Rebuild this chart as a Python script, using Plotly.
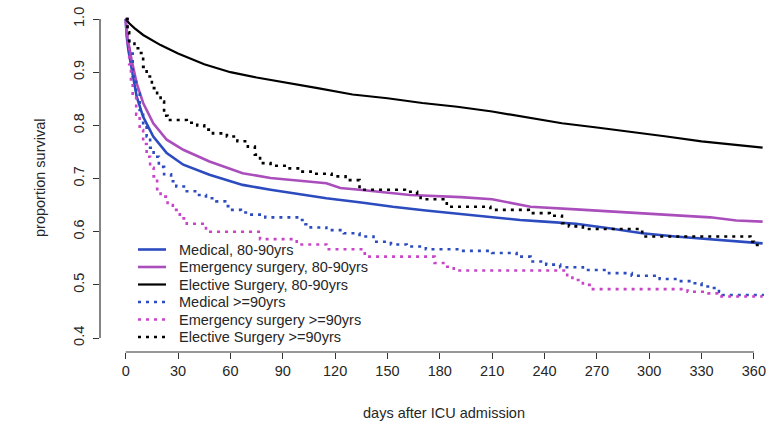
import plotly.graph_objects as go

# ---- Kaplan-Meier survival estimates (days after ICU admission) ----
# Solid curves: 80-90 yrs groups
med_8090_days = [0, 0.5, 1.5, 3.4, 6.3, 10, 15.8, 23.5, 33, 48, 60, 67, 83, 100, 115, 135,
                 153, 172, 192, 210, 226, 240, 258, 278, 296, 315, 335, 350, 365]
med_8090_surv = [1.0, 0.97, 0.942, 0.904, 0.854, 0.816, 0.779, 0.748, 0.726, 0.707, 0.695,
                 0.688, 0.679, 0.670, 0.663, 0.655, 0.647, 0.640, 0.633, 0.627, 0.622, 0.619,
                 0.615, 0.606, 0.597, 0.591, 0.586, 0.582, 0.578]

emg_8090_days = [0, 0.5, 3.4, 6.3, 10, 15.8, 23.5, 33, 48, 60, 67, 83, 100, 115, 123, 134,
                 163, 192, 210, 222, 232, 258, 296, 335, 350, 358, 365]
emg_8090_surv = [1.0, 0.974, 0.923, 0.879, 0.842, 0.804, 0.773, 0.754, 0.732, 0.718, 0.710,
                 0.701, 0.695, 0.691, 0.682, 0.679, 0.669, 0.665, 0.661, 0.654, 0.647, 0.642,
                 0.635, 0.627, 0.621, 0.620, 0.619]

ele_8090_days = [0, 2, 5, 10, 20, 30, 45, 60, 75, 90, 110, 130, 150, 170, 190, 210, 230,
                 250, 270, 290, 310, 330, 350, 365]
ele_8090_surv = [1.0, 0.992, 0.983, 0.970, 0.951, 0.935, 0.915, 0.900, 0.890, 0.882, 0.870,
                 0.858, 0.851, 0.842, 0.835, 0.826, 0.815, 0.804, 0.796, 0.788, 0.779, 0.770,
                 0.763, 0.758]

# Dotted curves: >=90 yrs groups (step functions)
med_90_days = [0, 1, 2, 4, 6, 8, 10, 12, 14, 16, 19, 22, 26, 29, 35, 41, 46, 52, 57, 61, 66,
               71, 80, 100, 103, 106, 115, 125, 134, 142, 152, 161, 172, 190, 210, 224, 232,
               241, 249, 262, 277, 290, 306, 315, 323, 330, 335, 340, 342, 365]
med_90_surv = [1.0, 0.967, 0.935, 0.892, 0.86, 0.829, 0.80, 0.779, 0.758, 0.741, 0.722, 0.708,
               0.695, 0.685, 0.676, 0.669, 0.663, 0.657, 0.648, 0.641, 0.636, 0.632, 0.627,
               0.622, 0.614, 0.608, 0.603, 0.597, 0.591, 0.581, 0.576, 0.572, 0.567, 0.564,
               0.560, 0.553, 0.544, 0.538, 0.533, 0.528, 0.522, 0.517, 0.511, 0.507, 0.503,
               0.497, 0.494, 0.487, 0.481, 0.479]

emg_90_days = [0, 1, 2, 3, 4, 6, 8, 10, 12, 14, 16, 18, 20, 24, 27, 31, 35, 46, 77, 98, 115,
               137, 177, 183, 188, 253, 256, 262, 267, 322, 334, 339, 365]
emg_90_surv = [1.0, 0.95, 0.915, 0.88, 0.855, 0.82, 0.791, 0.765, 0.741, 0.72, 0.704, 0.68,
               0.666, 0.65, 0.641, 0.625, 0.615, 0.60, 0.586, 0.576, 0.567, 0.553, 0.541,
               0.534, 0.527, 0.518, 0.509, 0.50, 0.492, 0.487, 0.484, 0.478, 0.478]

ele_90_days = [0, 1, 2, 5, 8, 10, 12, 15, 18, 20, 22, 24, 35, 41, 45, 50, 58, 64, 70, 74, 77,
               83, 92, 100, 106, 118, 126, 134, 160, 167, 169, 182, 184, 209, 231, 243, 250,
               254, 262, 296, 358, 360, 365]
ele_90_surv = [1.0, 0.975, 0.954, 0.945, 0.936, 0.91, 0.892, 0.87, 0.855, 0.845, 0.818, 0.81,
               0.805, 0.80, 0.792, 0.785, 0.779, 0.77, 0.76, 0.745, 0.729, 0.724, 0.719,
               0.713, 0.709, 0.704, 0.697, 0.679, 0.675, 0.672, 0.661, 0.658, 0.647, 0.641,
               0.635, 0.630, 0.616, 0.610, 0.605, 0.591, 0.581, 0.575, 0.575]

legend_labels = ["Medical, 80-90yrs", "Emergency surgery, 80-90yrs", "Elective Surgery, 80-90yrs",
                 "Medical >=90yrs", "Emergency surgery >=90yrs", "Elective Surgery >=90yrs"]
x_ticks = list(range(0, 361, 30))
y_ticks = [0.4, 0.5, 0.6, 0.7, 0.8, 0.9, 1.0]

# ---- styling ----
BLUE = "#2B4BBE"
PURPLE = "#AA4EBC"
PINK = "#C844C8"
BLACK = "#000000"
DOT = "3px,5px"
FONT = "Liberation Sans, Arial, sans-serif"
FS = 14.5
TXT = "#262626"

W, H = 773, 428
ML, MR, MT, MB = 100, 0, 6, 76
PW, PH = W - ML - MR, H - MT - MB


def px_x(p):
    return (p - ML) / PW


def px_y(p):
    return (H - MB - p) / PH


series = [
    (med_8090_days, med_8090_surv, BLUE, "solid", "linear", 2.6),
    (emg_8090_days, emg_8090_surv, PURPLE, "solid", "linear", 2.6),
    (ele_8090_days, ele_8090_surv, BLACK, "solid", "linear", 2.2),
    (med_90_days, med_90_surv, BLUE, DOT, "hv", 2.6),
    (emg_90_days, emg_90_surv, PINK, DOT, "hv", 2.6),
    (ele_90_days, ele_90_surv, BLACK, DOT, "hv", 2.6),
]

fig = go.Figure()
for (d, s, col, dash, shape, w), name in zip(series, legend_labels):
    fig.add_trace(go.Scatter(x=d, y=s, mode="lines", name=name, showlegend=False,
                             line=dict(color=col, dash=dash, shape=shape, width=w)))

axis_common = dict(showgrid=False, zeroline=False, showline=False, ticks="outside",
                   ticklen=6, tickwidth=1.2, tickcolor="#333333",
                   tickfont=dict(family=FONT, size=FS, color=TXT))

fig.update_layout(
    width=W, height=H, autosize=False,
    margin=dict(l=ML, r=MR, t=MT, b=MB, pad=0),
    plot_bgcolor="white", paper_bgcolor="white",
    xaxis=dict(range=[-14.73, 370.95], tickvals=x_ticks, ticktext=[str(v) for v in x_ticks],
               **axis_common),
    yaxis=dict(range=[0.3737, 1.0245], tickvals=y_ticks, ticktext=[f"{v:.1f}" for v in y_ticks],
               tickangle=-90, ticklabelstandoff=3, **axis_common),
)

# R-style axis lines spanning only the tick range
fig.add_shape(type="line", xref="x", yref="paper", x0=0, x1=360, y0=0, y1=0,
              line=dict(color="#333333", width=1.2))
fig.add_shape(type="line", xref="paper", yref="y", x0=0, x1=0, y0=0.4, y1=1.0,
              line=dict(color="#333333", width=1.2))

# axis titles
fig.add_annotation(text="days after ICU admission", xref="paper", yref="paper",
                   x=px_x(444), y=px_y(413), xanchor="center", yanchor="middle",
                   showarrow=False, font=dict(family=FONT, size=FS, color=TXT))
fig.add_annotation(text="proportion survival", xref="paper", yref="paper",
                   x=px_x(40), y=px_y(178), xanchor="center", yanchor="middle",
                   textangle=-90, showarrow=False, font=dict(family=FONT, size=FS, color=TXT))

# legend (no box), bottom-left of the plot
rows_y = [249.5, 267, 284.5, 302, 319.5, 337]
for (d, s, col, dash, shape, w), label, ry in zip(series, legend_labels, rows_y):
    fig.add_shape(type="line", xref="paper", yref="paper",
                  x0=px_x(138), x1=px_x(166), y0=px_y(ry), y1=px_y(ry),
                  line=dict(color=col, dash=dash, width=w))
    fig.add_annotation(text=label, xref="paper", yref="paper", x=px_x(177), y=px_y(ry),
                       xanchor="left", yanchor="middle", showarrow=False,
                       font=dict(family=FONT, size=FS, color=TXT))

fig.write_html("out.html")
